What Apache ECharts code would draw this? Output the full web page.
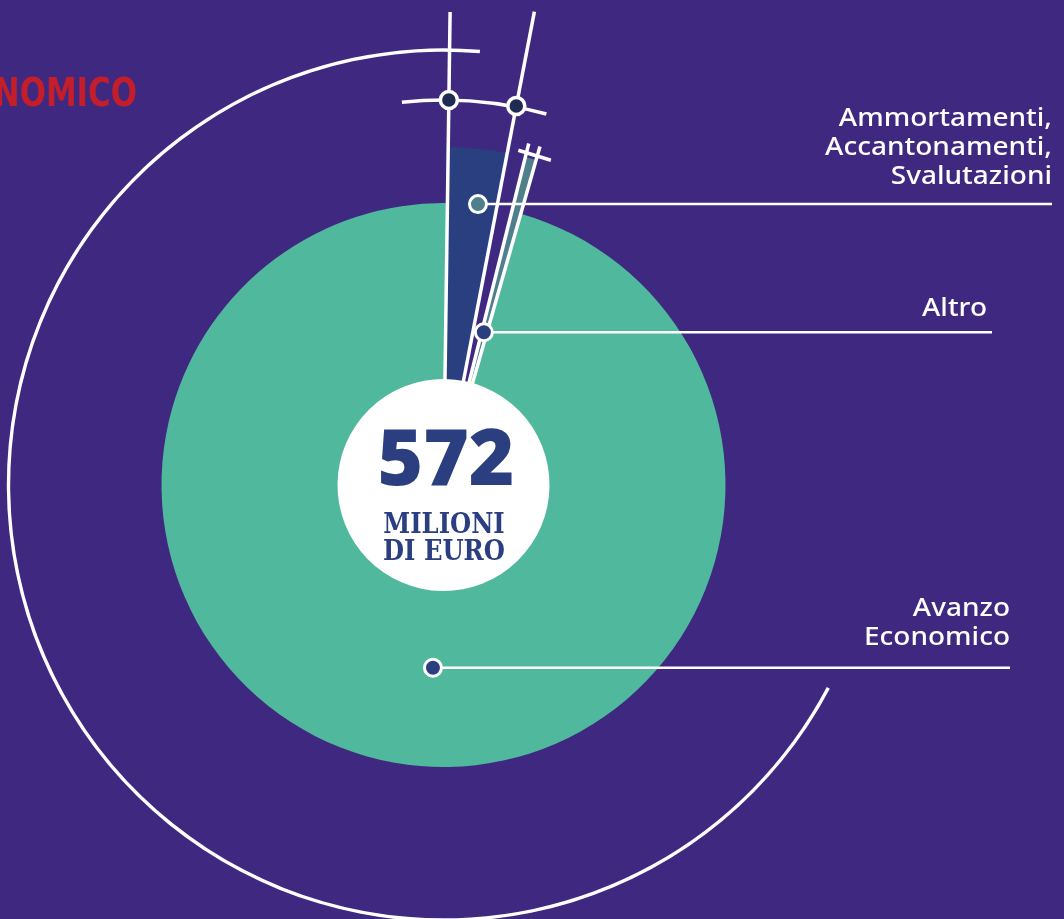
<!DOCTYPE html>
<html>
<head>
<meta charset="utf-8">
<script src="https://cdn.jsdelivr.net/npm/echarts@6/dist/echarts.min.js"></script>
<style>
html,body{margin:0;padding:0;background:#3f2880;}
#c{width:1064px;height:919px;}
</style>
</head>
<body>
<div id="c"></div>
<script>
// ---- data (milioni di euro) ----
const categories = ['Ammortamenti, Accantonamenti, Svalutazioni', '', 'Altro', 'Avanzo Economico'];
const values = [16, 5, 3, 548];
const total = 572;
const centerTexts = ['572', 'MILIONI', 'DI EURO'];
const titleText = 'ECONOMICO';
const labelTexts = [['Ammortamenti,', 'Accantonamenti,', 'Svalutazioni'], ['Altro'], ['Avanzo', 'Economico']];

// ---- layout / style ----
const CX = 443.5, CY = 485;
const startDeg = 0.8;
const sliceColors = ['#2a3f80', 'rgba(0,0,0,0)', '#4e7f8a', '#50b89d'];
const wedgeRadius = 338, greenRadius = 282, holeRadius = 106;
const radialEnds = [473, 482, 352, 352];
const markerAnchors = [[283, 7], [158, 14.8], [183, 183.3]]; // [radius, angle]
const markerColors = ['#4e7f8a', '#2b3f80', '#2b3f80'];
const leaderEnds = [1052, 992, 1010];
const textRights = [1052, 987, 1010];
const labelBaselines = [[128, 157, 186], [318], [618, 647]];

// boundaries of slices (degrees clockwise from top)
const bounds = [];
let cum = 0;
bounds.push(startDeg);
values.forEach(v => { cum += v; bounds.push(startDeg + cum / total * 360); });

const transparent = 'rgba(0,0,0,0)';
const pieBase = {
  type: 'pie', center: [CX, CY], startAngle: 90 - startDeg, clockwise: true,
  silent: true, label: {show: false}, labelLine: {show: false}, animation: false,
  emphasis: {disabled: true}
};

const series = [];
// green (Avanzo)
series.push(Object.assign({}, pieBase, {
  radius: [0, greenRadius], z: 1,
  data: values.map((v, i) => ({name: categories[i], value: v,
    itemStyle: {color: i === 3 ? sliceColors[3] : transparent, borderWidth: 0}}))
}));
// outer wedges (Ammortamenti, Altro)
series.push(Object.assign({}, pieBase, {
  radius: [0, wedgeRadius], z: 1,
  data: values.map((v, i) => ({name: categories[i], value: v,
    itemStyle: {color: i === 3 ? transparent : sliceColors[i], borderWidth: 0}}))
}));
// decorative outer arcs
series.push(Object.assign({}, pieBase, {
  radius: [433.3, 436.7], startAngle: 90 - 4.8, z: 1,
  data: [{value: 113, itemStyle: {color: transparent}}, {value: 247, itemStyle: {color: '#ffffff'}}]
}));
series.push(Object.assign({}, pieBase, {
  radius: [383.3, 386.7], startAngle: 90 + 6.2, z: 1,
  data: [{value: 21.7, itemStyle: {color: '#ffffff'}}, {value: 338.3, itemStyle: {color: transparent}}]
}));
// radial white lines on slice boundaries
bounds.forEach((a, i) => {
  if (i >= radialEnds.length) return;
  series.push({
    type: 'line', coordinateSystem: 'polar', symbol: 'none', silent: true, z: 3, animation: false,
    lineStyle: {color: '#ffffff', width: 3.5},
    data: [[0, a], [radialEnds[i], a]]
  });
});
// small cross tick on the Altro wedge
series.push({
  type: 'line', coordinateSystem: 'polar', symbol: 'none', silent: true, z: 3, animation: false,
  lineStyle: {color: '#ffffff', width: 3.5},
  data: [[343, 12.6], [342, 18.3]]
});
// white centre
series.push(Object.assign({}, pieBase, {
  radius: [0, holeRadius], z: 4,
  data: [{value: total, itemStyle: {color: '#ffffff'}}]
}));
// top markers
series.push({
  type: 'scatter', coordinateSystem: 'polar', silent: true, z: 6, animation: false,
  symbolSize: 17,
  itemStyle: {color: '#1f2a55', borderColor: '#ffffff', borderWidth: 3.5, opacity: 1},
  data: [[385, bounds[0]], [386, bounds[1]]]
});
// annotation markers
const markerSeriesIndex = series.length;
series.push({
  type: 'scatter', coordinateSystem: 'polar', silent: true, z: 6, animation: false,
  symbolSize: 17,
  data: markerAnchors.map((p, i) => ({value: p,
    itemStyle: {color: markerColors[i], borderColor: '#ffffff', borderWidth: 3, opacity: 1}}))
});

const chart = echarts.init(document.getElementById('c'), null, {renderer: 'canvas'});
chart.setOption({
  backgroundColor: '#3f2880',
  animation: false,
  polar: {center: [CX, CY], radius: 500},
  angleAxis: {type: 'value', min: 0, max: 360, startAngle: 90, clockwise: true, show: false},
  radiusAxis: {type: 'value', min: 0, max: 500, show: false},
  series: series
});

// leader lines + labels, anchored on the markers' pixel positions
const graphics = [];
markerAnchors.forEach((p, i) => {
  const px = chart.convertToPixel({seriesIndex: markerSeriesIndex}, p);
  graphics.push({type: 'line', z: 5, silent: true,
    shape: {x1: px[0], y1: px[1], x2: leaderEnds[i], y2: px[1]},
    style: {stroke: '#ffffff', lineWidth: 2.5}});
  labelTexts[i].forEach((t, j) => {
    graphics.push({type: 'text', z: 10, silent: true, x: textRights[i], y: labelBaselines[i][j] - 9,
      scaleX: 1.12,
      style: {text: t, fill: '#ffffff', font: '500 25px "Noto Sans"', textAlign: 'right', textVerticalAlign: 'middle'}});
  });
});
// centre text
graphics.push({type: 'text', z: 10, silent: true, x: 446, y: 463,
  style: {text: centerTexts[0], fill: '#2b3f80', font: '900 78px "Noto Sans"', textAlign: 'center', textVerticalAlign: 'middle'}});
graphics.push({type: 'text', z: 10, silent: true, x: 444, y: 526,
  style: {text: centerTexts[1], fill: '#2b3f80', font: 'bold 27px "DejaVu Serif Condensed", "DejaVu Serif"', textAlign: 'center', textVerticalAlign: 'middle'}});
graphics.push({type: 'text', z: 10, silent: true, x: 444, y: 553,
  style: {text: centerTexts[2], fill: '#2b3f80', font: 'bold 27px "DejaVu Serif Condensed", "DejaVu Serif"', textAlign: 'center', textVerticalAlign: 'middle'}});
// cropped title
graphics.push({type: 'text', z: 10, silent: true, x: 137, y: 96, scaleX: 0.88,
  style: {text: titleText, fill: '#c41e2b', font: 'bold 39px "Liberation Sans Narrow", "DejaVu Sans Condensed"', textAlign: 'right', textVerticalAlign: 'middle'}});

chart.setOption({graphic: {elements: graphics}});
</script>
</body>
</html>
